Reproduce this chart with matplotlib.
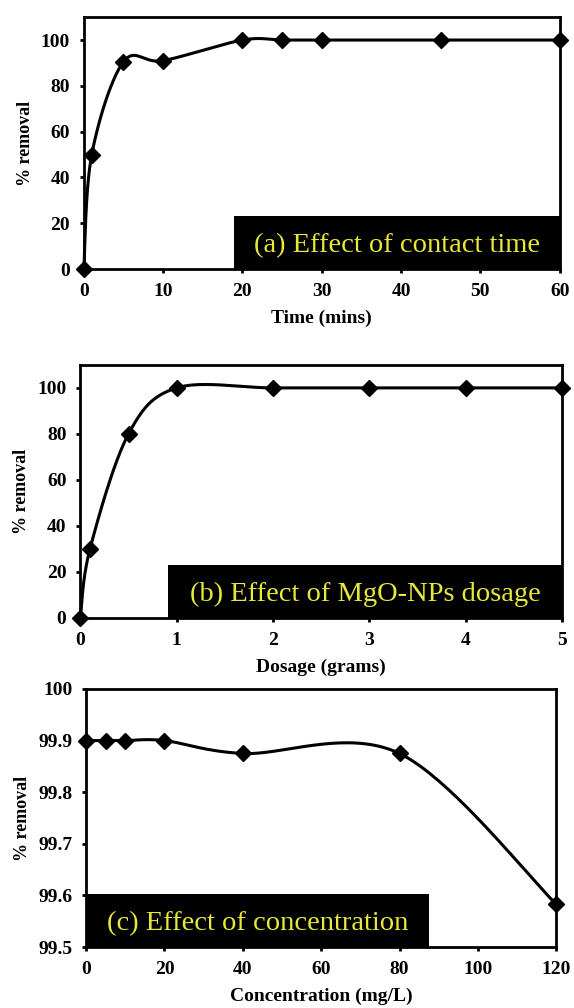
import numpy as np
import matplotlib
matplotlib.use("Agg")
import matplotlib.pyplot as plt
from matplotlib.patches import Rectangle

plt.rcParams['font.family'] = ['Liberation Serif', 'DejaVu Serif']

# (a) contact time
time_mins = [0, 1, 5, 10, 20, 25, 30, 45, 60]
removal_time = [0, 50, 90.5, 91, 100, 100, 100, 100, 100]

# (b) dosage
dosage_g = [0, 0.1, 0.5, 1, 2, 3, 4, 5]
removal_dose = [0, 30, 80, 100, 100, 100, 100, 100]

# (c) concentration
conc_mgl = [0, 5, 10, 20, 40, 80, 120]
removal_conc = [99.9, 99.9, 99.9, 99.9, 99.875, 99.875, 99.583]
conc_yticks = ['99.5', '99.6', '99.7', '99.8', '99.9', '100']

TEXT_YELLOW = '#e8e83a'


def smooth_curve(x, y, n=40):
    # Excel-like smoothed line: Catmull-Rom style cubic Bezier through the points
    x = np.asarray(x, float)
    y = np.asarray(y, float)
    px, py = [], []
    for i in range(len(x) - 1):
        x0, y0 = (x[i - 1], y[i - 1]) if i > 0 else (x[i], y[i])
        x3, y3 = (x[i + 2], y[i + 2]) if i + 2 < len(x) else (x[i + 1], y[i + 1])
        c1x = x[i] + (x[i + 1] - x0) / 6
        c1y = y[i] + (y[i + 1] - y0) / 6
        c2x = x[i + 1] - (x3 - x[i]) / 6
        c2y = y[i + 1] - (y3 - y[i]) / 6
        t = np.linspace(0, 1, n)
        b0, b1, b2, b3 = (1 - t) ** 3, 3 * t * (1 - t) ** 2, 3 * t ** 2 * (1 - t), t ** 3
        px.extend(b0 * x[i] + b1 * c1x + b2 * c2x + b3 * x[i + 1])
        py.extend(b0 * y[i] + b1 * c1y + b2 * c2y + b3 * y[i + 1])
    return px, py


def style_axes(ax):
    for s in ax.spines.values():
        s.set_linewidth(2)
        s.set_zorder(5)
    ax.tick_params(direction='out', length=3, width=2, labelsize=14, pad=7)
    for lab in ax.get_xticklabels() + ax.get_yticklabels():
        lab.set_fontweight('bold')


fig = plt.figure(figsize=(5.74, 10.08), dpi=100)

panels = [
    ([0.146, 0.733, 0.829, 0.250], time_mins, removal_time, (0, 60), (0, 110),
     np.arange(0, 61, 10), np.arange(0, 101, 20), None, 'Time (mins)',
     (19, 0, 41, 23), '(a) Effect of contact time'),
    ([0.140, 0.387, 0.839, 0.251], dosage_g, removal_dose, (0, 5), (0, 110),
     np.arange(0, 6, 1), np.arange(0, 101, 20), None, 'Dosage (grams)',
     (0.91, 0, 4.09, 23), '(b) Effect of MgO-NPs dosage'),
    ([0.150, 0.0605, 0.819, 0.256], conc_mgl, removal_conc, (0, 120), (99.5, 100),
     np.arange(0, 121, 20), np.linspace(99.5, 100, 6), conc_yticks, 'Concentration (mg/L)',
     (0, 99.5, 87.5, 0.102), '(c) Effect of concentration'),
]

for rect, xs, ys, xlim, ylim, xt, yt, ytl, xlabel, box, label in panels:
    ax = fig.add_axes(rect)
    sx, sy = smooth_curve(xs, ys)
    ax.plot(sx, sy, color='black', lw=2.2, zorder=3, clip_on=False)
    ax.plot(xs, ys, ls='none', marker='D', ms=8, color='black', zorder=6, clip_on=False)
    bx, by, bw, bh = box
    ax.add_patch(Rectangle((bx, by), bw, bh, facecolor='black', edgecolor='none', zorder=4))
    ax.text(bx + bw / 2, by + bh * 0.45, label, color=TEXT_YELLOW, fontsize=20.5,
            ha='center', va='center', zorder=7)
    ax.set_xlim(*xlim)
    ax.set_ylim(*ylim)
    ax.set_xticks(xt)
    ax.set_yticks(yt)
    if ytl is not None:
        ax.set_yticklabels(ytl)
    ax.set_xlabel(xlabel, fontsize=14, fontweight='bold', labelpad=7)
    ax.set_ylabel('% removal', fontsize=13, fontweight='bold', labelpad=5)
    style_axes(ax)

fig.savefig('out.png', dpi=100)
